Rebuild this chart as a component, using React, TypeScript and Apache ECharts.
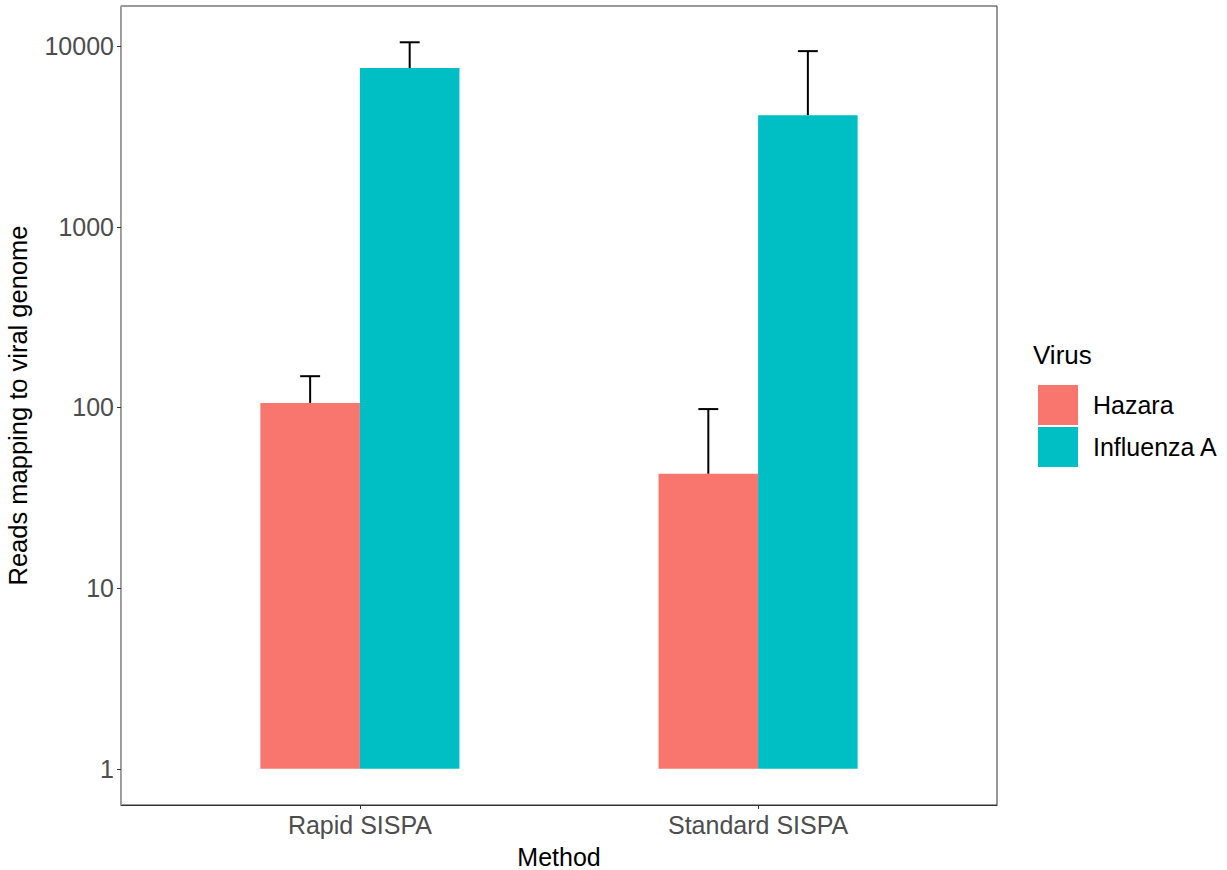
import React, { useEffect, useRef } from "react";
import * as echarts from "echarts";

const categories = ["Rapid SISPA", "Standard SISPA"];
const virusNames = ["Hazara", "Influenza A"];
const hazaraMean = [106, 43];
const hazaraUpper = [149, 98];
const influenzaMean = [7560, 4150];
const influenzaUpper = [10500, 9380];
const yTickValues = [1, 10, 100, 1000, 10000];
const colors = ["#F8766D", "#00BFC4"];

const FONT = "Liberation Sans, Arial, sans-serif";
const FS = 25;

function makeSeries(name: string, means: number[], uppers: number[], offset: number, color: string) {
  return {
    type: "custom",
    name,
    itemStyle: { color },
    data: means.map((m, i) => [i + 1, Math.log10(m), Math.log10(uppers[i])]),
    encode: { x: 0, y: 1 },
    renderItem: (params: any, api: any) => {
      const x = api.value(0);
      const y = api.value(1);
      const up = api.value(2);
      const x0 = offset < 0 ? x + offset : x;
      const x1 = offset < 0 ? x : x + offset;
      const pTopLeft = api.coord([x0, y]);
      const pBotRight = api.coord([x1, 0]);
      const cx = api.coord([(x0 + x1) / 2, y]);
      const pUp = api.coord([(x0 + x1) / 2, up]);
      const capL = api.coord([(x0 + x1) / 2 - 0.025, up]);
      const capR = api.coord([(x0 + x1) / 2 + 0.025, up]);
      return {
        type: "group",
        children: [
          {
            type: "rect",
            shape: {
              x: pTopLeft[0],
              y: pTopLeft[1],
              width: pBotRight[0] - pTopLeft[0],
              height: pBotRight[1] - pTopLeft[1],
            },
            style: { fill: color },
          },
          {
            type: "line",
            shape: { x1: cx[0], y1: cx[1], x2: pUp[0], y2: pUp[1] },
            style: { stroke: "#000", lineWidth: 2 },
          },
          {
            type: "line",
            shape: { x1: capL[0], y1: capL[1], x2: capR[0], y2: capR[1] },
            style: { stroke: "#000", lineWidth: 2 },
          },
        ],
      };
    },
  };
}

export default function App() {
  const ref = useRef<HTMLDivElement>(null);
  useEffect(() => {
    if (!ref.current) return;
    const chart = echarts.init(ref.current, null, { renderer: "svg" });
    chart.setOption({
      animation: false,
      backgroundColor: "#ffffff",
      textStyle: { fontFamily: FONT },
      grid: {
        left: 121,
        right: 230,
        top: 6,
        bottom: 65,
        outerBoundsMode: "none",
        containLabel: false,
        show: true,
        borderColor: "#333333",
        borderWidth: 1,
        backgroundColor: "#ffffff",
      },
      xAxis: {
        type: "value",
        min: 0.4,
        max: 2.6,
        name: "Method",
        nameLocation: "middle",
        nameGap: 39,
        nameTextStyle: { fontSize: FS, color: "#000", fontFamily: FONT },
        axisLine: { show: true, onZero: false, lineStyle: { color: "#333333", width: 1 } },
        axisTick: { show: true, customValues: [1, 2], length: 4, lineStyle: { color: "#333333" } },
        axisLabel: {
          customValues: [1, 2],
          formatter: (v: number) => categories[Math.round(v) - 1] ?? "",
          fontSize: FS,
          color: "#4D4D4D",
          margin: 7,
          fontFamily: FONT,
        },
        splitLine: { show: false },
      },
      yAxis: {
        type: "value",
        min: -0.2,
        max: 4.222,
        name: "Reads mapping to viral genome",
        nameLocation: "middle",
        nameGap: 90,
        nameRotate: 90,
        nameTextStyle: { fontSize: 25.5, color: "#000", fontFamily: FONT },
        axisLine: { show: true, onZero: false, lineStyle: { color: "#A6A6A6", width: 1 } },
        axisTick: {
          show: true,
          customValues: yTickValues.map((v) => Math.log10(v)),
          length: 4,
          lineStyle: { color: "#333333" },
        },
        axisLabel: {
          customValues: yTickValues.map((v) => Math.log10(v)),
          formatter: (v: number) => String(Math.round(Math.pow(10, v))),
          fontSize: FS,
          color: "#4D4D4D",
          margin: 7,
          fontFamily: FONT,
        },
        splitLine: { show: false },
      },
      legend: {
        orient: "vertical",
        left: 1038,
        top: 385,
        padding: 0,
        itemWidth: 40,
        itemHeight: 40,
        itemGap: 2,
        icon: "rect",
        data: virusNames,
        textStyle: { fontSize: FS, color: "#000", fontFamily: FONT, padding: [0, 0, 0, 10] },
      },
      graphic: [
        {
          type: "text",
          left: 1033,
          top: 342,
          style: { text: "Virus", fontSize: 26, fill: "#000", fontFamily: FONT },
        },
      ],
      series: [
        makeSeries(virusNames[0], hazaraMean, hazaraUpper, -0.25, colors[0]),
        makeSeries(virusNames[1], influenzaMean, influenzaUpper, 0.25, colors[1]),
      ],
    });
    return () => chart.dispose();
  }, []);
  return (
    <div
      ref={ref}
      style={{ position: "fixed", left: 0, top: 0, width: 1227, height: 870, background: "#fff" }}
    />
  );
}
